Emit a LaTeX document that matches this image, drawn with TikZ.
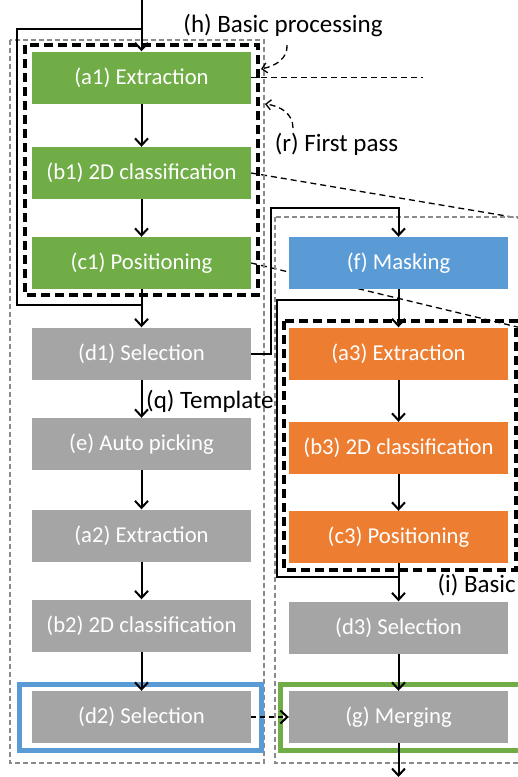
\documentclass[tikz,border=0pt]{standalone}
\usepackage{fontspec}
\setmainfont{Carlito}
\usepackage{tikz}
\usetikzlibrary{arrows.meta,positioning,backgrounds}
\definecolor{stgreen}{HTML}{70AD47}
\definecolor{stblue}{HTML}{5B9BD5}
\definecolor{storange}{HTML}{ED7D31}
\definecolor{stgray}{HTML}{A5A5A5}
\definecolor{boxgray}{HTML}{8A8A8A}
\tikzset{
  stage/.style={minimum width=219pt, minimum height=52pt, inner sep=0pt,
    text=white, font=\fontsize{22.7}{26}\selectfont},
  tag/.style={inner sep=0pt, font=\fontsize{25}{29}\selectfont},
  flow/.style={line width=2pt, -{Straight Barb[length=7pt,width=13pt]}},
  link/.style={line width=2pt},
  hint/.style={line width=1.3pt, dash pattern=on 6pt off 4pt},
  group/.style={line width=3.2pt, dash pattern=on 9pt off 5pt},
  outline/.style={boxgray, line width=1.2pt, dash pattern=on 5pt off 3pt}
}

\begin{document}
\begin{tikzpicture}[x=1pt, y=-1pt]
            \useasboundingbox (0,0) rectangle (518,777);
            % Draw outer frames
            \draw[outline] (10,40) rectangle (264,763);
            \draw[outline] (275,217) rectangle (540,763);
            \draw[group] (25,45) rectangle (258,295);
            \draw[group] (284,321) rectangle (516,570);
            \draw[stblue, line width=5pt] (19.5,684.5) rectangle (261,750);
            \draw[stgreen, line width=5pt] (280.5,684.5) rectangle (540,750);
            % Left column
            \node[stage, fill=stgreen] (a1) at (141.5,77.5) {(a1) Extraction};
            \node[stage, fill=stgreen] (b1) at (141.5,173) {(b1) 2D classification};
            \node[stage, fill=stgreen] (c1) at (141.5,263) {(c1) Positioning};
            \node[stage, fill=stgray] (d1) at (141.5,353.5) {(d1) Selection};
            \node[stage, fill=stgray] (e) at (141.5,444) {(e) Auto picking};
            \node[stage, fill=stgray] (a2) at (141.5,535.5) {(a2) Extraction};
            \node[stage, fill=stgray] (b2) at (141.5,625.5) {(b2) 2D classification};
            \node[stage, fill=stgray] (d2) at (141.5,717) {(d2) Selection};
            % Right column
            \node[stage, fill=stblue] (f) at (398.5,263) {(f) Masking};
            \node[stage, fill=storange] (a3) at (398.5,353.5) {(a3) Extraction};
            \node[stage, fill=storange] (b3) at (398.5,448) {(b3) 2D classification};
            \node[stage, fill=storange] (c3) at (398.5,537) {(c3) Positioning};
            \node[stage, fill=stgray] (d3) at (398.5,627.5) {(d3) Selection};
            \node[stage, fill=stgray] (g) at (398.5,717) {(g) Merging};
            % Labels
            \node[tag] (hlab) at (283,26) {(h) Basic processing};
            \node[tag] (rlab) at (336.5,144) {(r) First pass};
            \node[tag, anchor=west] (qlab) at (146,401) {(q) Template};
            \node[tag, anchor=east] (ilab) at (516,585) {(i) Basic};
            % Define points
            \coordinate (in) at (141.5,0);
            \coordinate (split) at (141.5,29);
            \coordinate (join) at (141.5,305);
            \coordinate (split3) at (398.5,300);
            \coordinate (join3) at (398.5,577);
            \coordinate (out) at (398.5,777);
            \coordinate (hhead) at (261,69);
            \coordinate (rhead) at (265,104);
            % Draw the flow
            \draw[flow] (in) -- (a1);
            \draw[link] (split) -- (17,29) |- (join);
            \draw[flow] (a1) -- (b1);
            \draw[flow] (b1) -- (c1);
            \draw[flow] (c1) -- (d1);
            \draw[flow] (d1) -- (e);
            \draw[flow] (e) -- (a2);
            \draw[flow] (a2) -- (b2);
            \draw[flow] (b2) -- (d2);
            \draw[flow] (d1.east) -| (271,208) -| (f.north);
            \draw[flow] (f) -- (a3);
            \draw[link] (split3) -- (277,300) |- (join3);
            \draw[flow] (a3) -- (b3);
            \draw[flow] (b3) -- (c3);
            \draw[flow] (c3) -- (d3);
            \draw[flow] (d3) -- (g);
            \draw[flow] (g) -- (out);
            \draw[flow, dash pattern=on 5pt off 4pt] (d2.east) -- (g.west);
            % Pointers to the group
            \draw[hint, -{Straight Barb[length=5pt,width=10pt]}] (287,45) .. controls (288,58) and (276,66) .. (hhead);
            \draw[hint, -{Straight Barb[length=5pt,width=10pt]}] (293,128) .. controls (293,114) and (281,106) .. (rhead);
            \begin{scope}[on background layer]
              \draw[hint] (a1.east) -- (423,77.5);
              \draw[hint] (b1.east) -- (530,220);
              \draw[hint] (c1.east) -- (530,330);
            \end{scope}
          \end{tikzpicture}
\end{document}
